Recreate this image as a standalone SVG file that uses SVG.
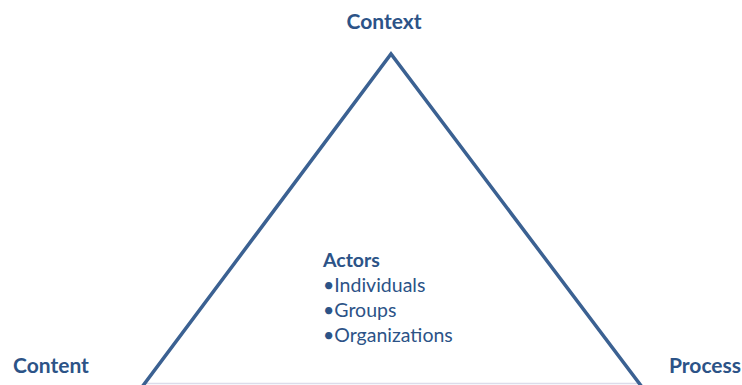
<svg xmlns="http://www.w3.org/2000/svg" width="742" height="385" viewBox="0 0 742 385">
<style>
.t{font-family:Lato,"Liberation Sans",sans-serif;fill:#2c5387}
.b{font-weight:bold;font-size:21px}
.r{font-size:19.5px}
.edge{stroke:#3b6192;stroke-width:3.5;fill:none;stroke-linejoin:miter}
</style>
<rect width="742" height="385" fill="#fff"/>
<g id="connectors">
<line x1="146" y1="383.5" x2="638" y2="383.5" stroke="#dcdcea" stroke-width="1.5"/>
<polyline class="edge" points="142,387 391,54 642,387"/>
</g>
<g id="context"><text class="t b" x="384" y="29" text-anchor="middle">Context</text></g>
<g id="content"><text class="t b" x="51" y="373" text-anchor="middle">Content</text></g>
<g id="process"><text class="t b" x="705" y="373" text-anchor="middle">Process</text></g>
<g id="actors">
<text class="t b" x="323" y="267" style="font-size:19.5px">Actors</text>
<text class="t r" x="323" y="292">•Individuals</text>
<text class="t r" x="323" y="317">•Groups</text>
<text class="t r" x="323" y="342">•Organizations</text>
</g>
</svg>
